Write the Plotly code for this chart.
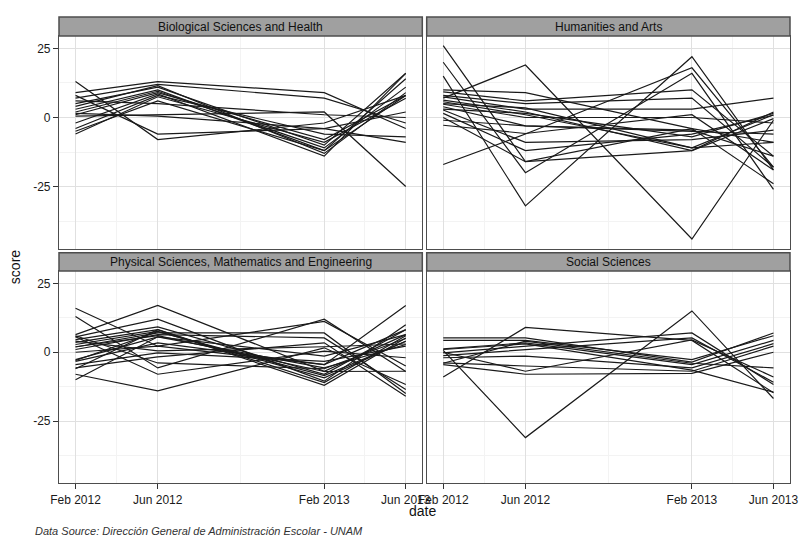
import plotly.graph_objects as go

# ---- data -------------------------------------------------------------
dates = ["2012-02-01", "2012-06-01", "2013-02-01", "2013-06-01"]
date_labels = ["Feb 2012", "Jun 2012", "Feb 2013", "Jun 2013"]
areas = ["Biological Sciences and Health", "Humanities and Arts",
         "Physical Sciences, Mathematics and Engineering", "Social Sciences"]
y_ticks = [-25, 0, 25]
y_labels = ["-25", "0", "25"]

# each row: score at Feb 2012, Jun 2012, Feb 2013, Jun 2013
bio = [
    [13, -8, -2, 8], [8, -6, -4, 2], [9, 13, 9, -4], [7, 12, 7, -2],
    [5, 11, -10, 16], [3, 10, -12, 14], [2, 9.5, -11, 11], [1, 9, -8, 8],
    [-2, 8.5, -14, 16], [-4, 8, -6, -7], [-6, 7.5, -9, 7], [-5, 6, -12, 8],
    [0.5, 1, 2, -25], [1.5, 0.5, -4, -9], [6, 5, 1, 0], [4, 11.5, -13, 9],
]
hum = [
    [26, -16, -4, -9], [20, -20, 16, -26], [15, -32, 22, -19], [-17, -6, 18, -18],
    [7, 19, -44, -1], [10, 9, -4, -24], [9.3, 6, 10, -14], [8, 5, 7, -18],
    [7.5, 3, 3, 7], [6.3, 2, -12, 2], [5.7, 1, -11, 1], [4.8, 0, 0, -2],
    [3.9, -3, -5, -6], [2.7, -9, -8, -4.6], [1.5, -12, -6, 0.8], [0, -16, -12, -0.4],
    [-1, -3, -4.6, -14], [-2.8, -5.8, 1, -19], [5, 3.5, -11, -9], [3, 1.5, -7, 1.5],
]
phys = [
    [16, 2.2, 11.2, -5], [13, -5.7, 12, -7], [6.4, 17, -6.9, 6.4], [5.6, 12, -10.5, 10],
    [4.6, 9.2, -8, 8.2], [3.6, 8.2, -12, 5.2], [2.8, 7.6, -9.3, 4], [1.9, 7, 7, -15],
    [1, 6.4, 5.2, -13.5], [-2.7, 5.6, -5.7, 2.8], [-3.3, 3.4, -4.5, 17], [-4.5, -0.2, -3.3, 2.2],
    [-5.7, -1.7, 3.4, -16], [-8, -14, 1.6, -11.7], [-10, 5.6, -1.4, 6.4], [5.6, -8, 0.4, -2],
    [6, -3.9, -6, 5], [2, 6, -7, -6.9], [0, 2.2, -4.5, 8.2], [-3, 7.5, -8.5, 4],
    [4, 0.5, 2, 3], [-6, 8.2, -11, 6],
]
soc = [
    [0.7, -31, 15, -16.8], [-9, 9, 4.3, -14.7], [5.2, 5.2, -3.6, 7], [4.3, 4.3, -2.7, 6],
    [1.2, 3.4, -4.5, 4.3], [-0.2, 2.2, 7, -11.7], [-1.2, 1, 5.2, -10.9], [-2, -1.4, -5.7, 3.1],
    [-3.9, -5, -6.9, 2.2], [-4.5, -8, -7.7, 0], [0, -6.9, 4.5, -9], [-4, 4, -4, -5.7],
    [1, 3, -6.5, -14.5],
]
panels = [bio, hum, phys, soc]

# ---- figure -----------------------------------------------------------
fig = go.Figure()
for i, rows in enumerate(panels):
    ax = "" if i == 0 else str(i + 1)
    for r in rows:
        fig.add_trace(go.Scatter(
            x=dates, y=r, mode="lines", showlegend=False, hoverinfo="skip",
            line=dict(color="#1a1a1a", width=1.2),
            xaxis="x" + ax, yaxis="y" + ax))

xdom = [[0, 0.497], [0.503, 1.0]]
ydom_panel = [[0.5028, 0.9592], [0, 0.4549]]
ydom_strip = [[0.9592, 1.0], [0.4549, 0.4942]]

grid_major = "#e0e0e0"
grid_minor = "#f3f3f3"
frame = "#4d4d4d"

layout = dict(
    width=810, height=540,
    margin=dict(l=59, r=18, t=17, b=57),
    paper_bgcolor="white", plot_bgcolor="white",
    font=dict(family="Liberation Sans, Arial, sans-serif", size=12, color="#1a1a1a"),
)
shapes = []
annotations = []
for i in range(4):
    row, col = i // 2, i % 2
    ax = "" if i == 0 else str(i + 1)
    bottom = row == 1
    left = col == 0
    layout["xaxis" + ax] = dict(
        type="date", domain=xdom[col], anchor="y" + ax,
        range=["2012-01-07 16:00", "2013-06-25 08:00"],
        tickmode="array", tickvals=dates, ticktext=date_labels,
        showticklabels=bottom, ticks="outside" if bottom else "",
        ticklen=5, tickcolor="#333333", tickfont=dict(size=12, color="#1a1a1a"),
        showgrid=True, gridcolor=grid_major, gridwidth=1,
        minor=dict(tickmode="array",
                   tickvals=["2012-04-01 12:00", "2012-10-01 12:00", "2013-04-01 12:00"],
                   showgrid=True, gridcolor=grid_minor, gridwidth=1, ticks=""),
        showline=True, mirror=True, linecolor=frame, linewidth=1.2,
        zeroline=False, fixedrange=True,
    )
    layout["yaxis" + ax] = dict(
        domain=ydom_panel[row], anchor="x" + ax, range=[-47.5, 29.5],
        tickmode="array", tickvals=y_ticks, ticktext=y_labels,
        showticklabels=left, ticks="outside" if left else "",
        ticklen=5, tickcolor="#333333", tickfont=dict(size=12, color="#1a1a1a"),
        showgrid=True, gridcolor=grid_major, gridwidth=1,
        minor=dict(tickmode="array", tickvals=[-37.5, -12.5, 12.5],
                   showgrid=True, gridcolor=grid_minor, gridwidth=1, ticks=""),
        showline=True, mirror=True, linecolor=frame, linewidth=1.2,
        zeroline=False, fixedrange=True,
    )
    shapes.append(dict(type="rect", xref="paper", yref="paper",
                       x0=xdom[col][0], x1=xdom[col][1],
                       y0=ydom_strip[row][0], y1=ydom_strip[row][1],
                       fillcolor="#a0a0a0", line=dict(color=frame, width=1.5),
                       layer="above"))
    annotations.append(dict(text=areas[i], xref="paper", yref="paper",
                            x=(xdom[col][0] + xdom[col][1]) / 2,
                            y=(ydom_strip[row][0] + ydom_strip[row][1]) / 2,
                            showarrow=False, xanchor="center", yanchor="middle",
                            font=dict(size=12, color="#111111")))

annotations.append(dict(text="score", xref="paper", yref="paper", x=-0.06, y=0.4635,
                        textangle=-90, showarrow=False, xanchor="center", yanchor="middle",
                        font=dict(size=14, color="#111111")))
annotations.append(dict(text="date", xref="paper", yref="paper", x=0.4966, y=-0.060,
                        showarrow=False, xanchor="center", yanchor="middle",
                        font=dict(size=14, color="#111111")))
annotations.append(dict(text="<i>Data Source: Dirección General de Administración Escolar - UNAM</i>",
                        xref="paper", yref="paper", x=-0.0355, y=-0.103,
                        showarrow=False, xanchor="left", yanchor="middle",
                        font=dict(size=11, color="#333333")))

layout["shapes"] = shapes
layout["annotations"] = annotations
fig.update_layout(**layout)
fig.write_html("out.html", config={"displayModeBar": False},
               post_script="document.body.style.margin='0';document.body.style.padding='0';")
